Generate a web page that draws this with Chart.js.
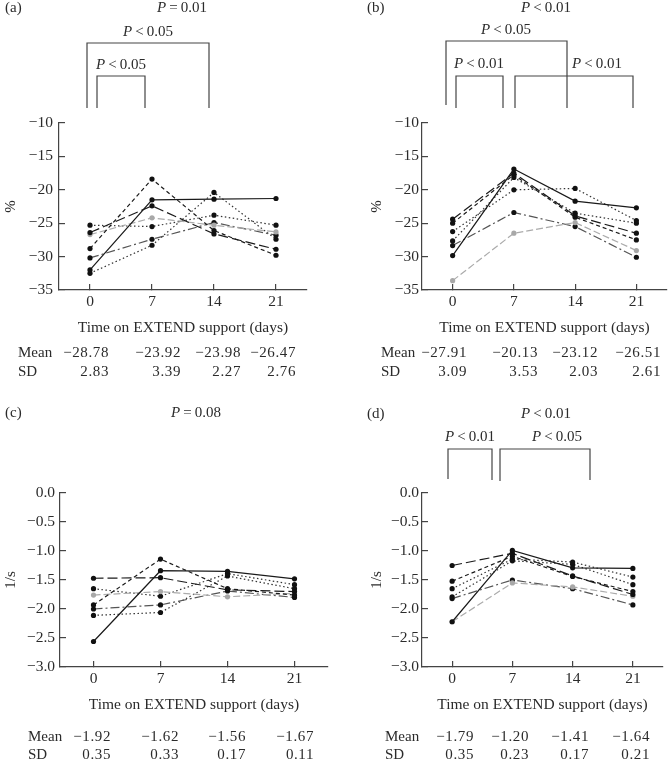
<!DOCTYPE html>
<html>
<head>
<meta charset="utf-8">
<script src="https://cdn.jsdelivr.net/npm/chart.js@4.4.1/dist/chart.umd.min.js"></script>
<style>
  html, body { margin: 0; padding: 0; background: #fff; }
  #wrap { position: relative; width: 671px; height: 763px; }
  canvas { position: absolute; }
</style>
</head>
<body>
<div id="wrap">
  <canvas id="pa" width="335" height="381" style="left:0;top:0"></canvas>
  <canvas id="pb" width="336" height="381" style="left:335px;top:0"></canvas>
  <canvas id="pc" width="335" height="382" style="left:0;top:381px"></canvas>
  <canvas id="pd" width="336" height="382" style="left:335px;top:381px"></canvas>
</div>
<script>
// ── data ──────────────────────────────────────────
const days = ['0', '7', '14', '21'];

// one row per patient, in the order of lineStyles
const lineStyles = ['solid', 'shortDash', 'longDash', 'gray', 'dotted', 'dashDot', 'dotted'];

const valuesA = [
  [-32.0, -21.5, -21.4, -21.3],
  [-28.8, -18.4, -26.1, -29.8],
  [-26.4, -22.4, -26.6, -28.9],
  [-26.7, -24.2, -25.3, -26.3],
  [-25.3, -25.5, -23.8, -25.3],
  [-30.2, -27.4, -24.9, -26.8],
  [-32.5, -28.3, -20.4, -27.4],
];
const valuesB = [
  [-29.85, -16.9, -21.7, -22.7],
  [-25.0, -17.75, -24.1, -27.5],
  [-24.4, -17.5, -23.9, -26.5],
  [-33.6, -26.5, -24.9, -29.1],
  [-26.25, -20.0, -19.8, -24.6],
  [-28.35, -23.4, -25.5, -30.1],
  [-27.65, -18.15, -23.5, -25.0],
];
const valuesC = [
  [-2.56, -1.34, -1.35, -1.48],
  [-1.93, -1.14, -1.65, -1.76],
  [-1.47, -1.46, -1.67, -1.70],
  [-1.76, -1.70, -1.79, -1.73],
  [-1.65, -1.78, -1.39, -1.58],
  [-2.00, -1.93, -1.69, -1.80],
  [-2.11, -2.06, -1.43, -1.65],
];
const valuesD = [
  [-2.22, -0.99, -1.29, -1.30],
  [-1.52, -1.09, -1.44, -1.70],
  [-1.25, -1.04, -1.43, -1.75],
  [-2.22, -1.55, -1.62, -1.78],
  [-1.65, -1.14, -1.19, -1.45],
  [-1.82, -1.50, -1.65, -1.93],
  [-1.79, -1.17, -1.23, -1.58],
];

const meanA = [-28.78, -23.92, -23.98, -26.47];
const sdA = [2.83, 3.39, 2.27, 2.76];
const meanB = [-27.91, -20.13, -23.12, -26.51];
const sdB = [3.09, 3.53, 2.03, 2.61];
const meanC = [-1.92, -1.62, -1.56, -1.67];
const sdC = [0.35, 0.33, 0.17, 0.11];
const meanD = [-1.79, -1.20, -1.41, -1.64];
const sdD = [0.35, 0.23, 0.17, 0.21];

// ── look ──────────────────────────────────────────
const INK = '#2b2b2b';
const SERIF = '"Liberation Serif", "DejaVu Serif", serif';
const STYLE = {
  solid:     { color: '#1a1a1a', dash: [] },
  shortDash: { color: '#1a1a1a', dash: [4, 3] },
  longDash:  { color: '#1a1a1a', dash: [10, 4] },
  gray:      { color: '#ababab', dash: [7, 3] },
  dotted:    { color: '#333333', dash: [1.5, 2.5] },
  dashDot:   { color: '#555555', dash: [9, 3, 2, 3] },
};

const minus = (v, d) => (v < 0 ? '\u2212' : '') + Math.abs(v).toFixed(d);

const panels = [
  {
    id: 'pa', letter: '(a)', values: valuesA, mean: meanA, sd: sdA, yTitle: '%',
    yMin: -35, yMax: -10, step: 5, dec: 0,
    pad: { left: 0, right: 28, top: 123, bottom: 40 }, yWidth: 59, yGap: 12,
    head: { lx: 5, y: 8, px: 182, rel: '=', val: '0.01' },
    brackets: [
      { x1: 87, x2: 209, top: 43, b1: 108, b2: 108, lx: 148, ly: 32, rel: '<', val: '0.05' },
      { x1: 97, x2: 145, top: 76, b1: 108, b2: 108, lx: 121, ly: 65, rel: '<', val: '0.05' },
    ],
    table: { x: 18, rights: [108, 180, 240, 295], y: [353, 372], dec: 2 },
  },
  {
    id: 'pb', letter: '(b)', values: valuesB, mean: meanB, sd: sdB, yTitle: '%',
    yMin: -35, yMax: -10, step: 5, dec: 0,
    pad: { left: 31, right: 0, top: 123, bottom: 40 }, yWidth: 56, yGap: 9,
    head: { lx: 32, y: 8, px: 211, rel: '<', val: '0.01' },
    brackets: [
      { x1: 111, x2: 232, top: 41, b1: 105, b2: 108, lx: 171, ly: 30, rel: '<', val: '0.05' },
      { x1: 121, x2: 168, top: 76, b1: 108, b2: 108, lx: 144, ly: 64, rel: '<', val: '0.01' },
      { x1: 180, x2: 298, top: 76, b1: 108, b2: 108, lx: 262, ly: 64, rel: '<', val: '0.01' },
    ],
    table: { x: 46, rights: [131, 202, 262, 325], y: [353, 372], dec: 2 },
  },
  {
    id: 'pc', letter: '(c)', values: valuesC, mean: meanC, sd: sdC, yTitle: '1/s',
    yMin: -3, yMax: 0, step: 0.5, dec: 1,
    pad: { left: 0, right: 7, top: 112, bottom: 45 }, yWidth: 60, yGap: 11,
    head: { lx: 5, y: 32, px: 196, rel: '=', val: '0.08' },
    brackets: [],
    table: { x: 28, rights: [110, 178, 245, 313], y: [356, 374], dec: 2 },
  },
  {
    id: 'pd', letter: '(d)', values: valuesD, mean: meanD, sd: sdD, yTitle: '1/s',
    yMin: -3, yMax: 0, step: 0.5, dec: 1,
    pad: { left: 31, right: 8, top: 112, bottom: 45 }, yWidth: 56, yGap: 9,
    head: { lx: 32, y: 33, px: 211, rel: '<', val: '0.01' },
    brackets: [
      { x1: 113, x2: 157, top: 68, b1: 98, b2: 99, lx: 135, ly: 56, rel: '<', val: '0.01' },
      { x1: 165, x2: 255, top: 68, b1: 100, b2: 99, lx: 222, ly: 56, rel: '<', val: '0.05' },
    ],
    table: { x: 50, rights: [138, 193, 253, 314], y: [356, 374], dec: 2 },
  },
];

// P value with an italic P
function drawP(ctx, cx, y, rel, val) {
  const it = 'italic 15px ' + SERIF;
  const rm = '15px ' + SERIF;
  const rest = '\u2009' + rel + '\u2009' + val;
  ctx.font = it; const w1 = ctx.measureText('P').width;
  ctx.font = rm; const w2 = ctx.measureText(rest).width;
  let x = cx - (w1 + w2) / 2;
  ctx.textAlign = 'left';
  ctx.font = it; ctx.fillText('P', x, y);
  ctx.font = rm; ctx.fillText(rest, x + w1, y);
}

function annotations(p) {
  return {
    id: 'annot_' + p.id,
    afterDraw(chart) {
      const ctx = chart.ctx;
      ctx.save();
      ctx.fillStyle = INK;
      ctx.strokeStyle = '#444';
      ctx.lineWidth = 1.2;
      ctx.textBaseline = 'middle';
      ctx.font = '15px ' + SERIF;
      ctx.textAlign = 'left';
      ctx.fillText(p.letter, p.head.lx, p.head.y);
      drawP(ctx, p.head.px, p.head.y, p.head.rel, p.head.val);

      p.brackets.forEach((b) => {
        ctx.beginPath();
        ctx.moveTo(b.x1, b.b1);
        ctx.lineTo(b.x1, b.top);
        ctx.lineTo(b.x2, b.top);
        ctx.lineTo(b.x2, b.b2);
        ctx.stroke();
        drawP(ctx, b.lx, b.ly, b.rel, b.val);
      });

      // Mean / SD rows under the axis
      const t = p.table;
      ctx.font = '15px ' + SERIF;
      ctx.textAlign = 'left';
      ctx.fillText('Mean', t.x, t.y[0]);
      ctx.fillText('SD', t.x, t.y[1]);
      ctx.textAlign = 'right';
      ctx.letterSpacing = '0.6px';
      p.mean.forEach((v, i) => ctx.fillText(minus(v, t.dec), t.rights[i] + 1, t.y[0]));
      p.sd.forEach((v, i) => ctx.fillText(minus(v, t.dec), t.rights[i] + 1, t.y[1]));
      ctx.letterSpacing = '0px';
      ctx.restore();
    },
  };
}

panels.forEach((p) => {
  const datasets = p.values.map((row, i) => {
    const s = STYLE[lineStyles[i]];
    const pt = lineStyles[i] === 'gray' ? '#a8a8a8' : '#111';
    return {
      data: row,
      borderColor: s.color,
      borderDash: s.dash,
      borderWidth: 1.2,
      pointRadius: 2.6,
      pointBackgroundColor: pt,
      pointBorderColor: pt,
      pointBorderWidth: 0,
      tension: 0,
      fill: false,
    };
  });

  new Chart(document.getElementById(p.id), {
    type: 'line',
    data: { labels: days, datasets },
    plugins: [annotations(p)],
    options: {
      responsive: false,
      animation: false,
      devicePixelRatio: 1,
      layout: { padding: p.pad },
      plugins: { legend: { display: false }, tooltip: { enabled: false } },
      scales: {
        x: {
          type: 'category',
          offset: true,
          border: { display: true, color: '#444', width: 1.2 },
          grid: { drawOnChartArea: false, drawTicks: true, tickLength: -6, color: '#444', lineWidth: 1.2, offset: false },
          ticks: { color: INK, padding: 9, font: { family: SERIF, size: 15.5 }, maxRotation: 0 },
          title: {
            display: true, text: 'Time on EXTEND support (days)', color: INK,
            font: { family: SERIF, size: 15.5 }, padding: { top: 0, bottom: 4 },
          },
          afterFit: (scale) => { scale.height = 51; },
        },
        y: {
          min: p.yMin,
          max: p.yMax,
          border: { display: true, color: '#444', width: 1.2 },
          grid: { drawOnChartArea: false, drawTicks: true, tickLength: -6, color: '#444', lineWidth: 1.2 },
          ticks: {
            stepSize: p.step, color: INK, padding: p.yGap,
            font: { family: SERIF, size: 15.5 },
            callback: (v) => minus(v, p.dec),
          },
          title: {
            display: true, text: p.yTitle, color: INK,
            font: { family: SERIF, size: 15 }, padding: { top: 2, bottom: 0 },
          },
          afterFit: (scale) => { scale.width = p.yWidth; },
        },
      },
    },
  });
});
</script>
</body>
</html>
